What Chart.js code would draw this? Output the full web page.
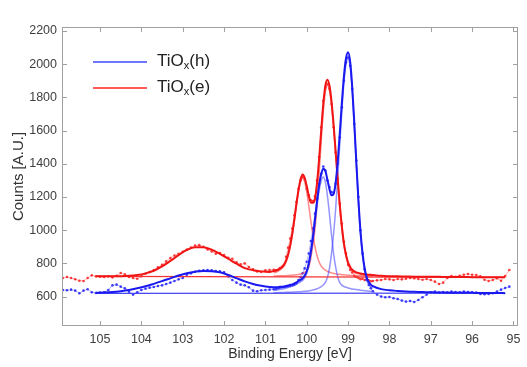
<!doctype html>
<html lang="en">
<head>
<meta charset="utf-8" />
<title>TiOx XPS</title>
<script src="https://cdn.jsdelivr.net/npm/chart.js@4"></script>
<style>
  body { margin: 0; background: #fff; }
  #wrap { position: relative; width: 527px; height: 367px; }
  .key { position: absolute; left: 93px; width: 54px; height: 2px; }
  .lab { position: absolute; left: 157px; font: 17px Arial, "Liberation Sans", sans-serif; color: #222; line-height: 22px; white-space: nowrap; }
  .lab sub { font-size: 11px; vertical-align: -3px; }
</style>
</head>
<body>
<div id="wrap">
  <canvas id="xps" width="527" height="367"></canvas>
  <div class="key" style="top: 60.5px; background: rgb(110,120,255);"></div>
  <div class="lab" style="top: 50px;">TiO<sub>x</sub>(h)</div>
  <div class="key" style="top: 86.5px; background: rgb(255,90,90);"></div>
  <div class="lab" style="top: 76px;">TiO<sub>x</sub>(e)</div>
</div>
<script>
// axis ticks
const xTicks = [105, 104, 103, 102, 101, 100, 99, 98, 97, 96, 95];
const yTicks = [600, 800, 1000, 1200, 1400, 1600, 1800, 2000, 2200];

// fitted envelopes (eV grid, finer around the Ti 2p peaks)
const fitX = [105.1, 104.9, 104.7, 104.5, 104.3, 104.1, 103.9, 103.7, 103.5, 103.3, 103.1, 102.9, 102.7, 102.5, 102.3, 102.1, 101.9, 101.7, 101.5, 101.3, 101.1, 100.9,
  100.8, 100.75, 100.7, 100.65, 100.6, 100.55, 100.5, 100.45, 100.4, 100.35, 100.3, 100.25, 100.2, 100.15, 100.1, 100.05, 100, 99.95, 99.9, 99.85, 99.8, 99.75, 99.7, 99.65,
  99.6, 99.55, 99.5, 99.45, 99.4, 99.35, 99.3, 99.25, 99.2, 99.15, 99.1, 99.05, 99, 98.95, 98.9, 98.85, 98.8, 98.75, 98.7, 98.65, 98.6, 98.55, 98.5, 98.45, 98.4,
  98.2, 98.0, 97.8, 97.6, 97.4, 97.2, 97.0, 96.8, 96.6, 96.4, 96.2, 96.0, 95.8, 95.6, 95.4, 95.2];
const redFit = [722, 722, 722, 723, 725, 730, 740, 756, 782, 815, 850, 881, 898, 897, 883, 857, 828, 798, 772, 759, 752, 749,
  754, 757, 762, 768, 777, 793, 817, 855, 909, 980, 1065, 1158, 1242, 1306, 1335, 1316, 1266, 1206, 1167, 1165, 1188, 1287, 1432, 1601,
  1760, 1871, 1907, 1870, 1775, 1635, 1471, 1303, 1150, 1021, 919, 852, 805, 779, 762, 752, 746, 743, 739, 737, 735, 733, 732, 731, 730,
  725, 723, 722, 721, 720, 720, 719, 719, 718, 718, 718, 717, 717, 717, 716, 716];
const blueFit = [623, 625, 628, 633, 640, 650, 662, 677, 693, 710, 727, 741, 750, 755, 753, 746, 730, 711, 692, 676, 665, 658,
  657, 657, 657, 659, 659, 661, 664, 667, 671, 674, 680, 685, 693, 701, 711, 727, 753, 802, 872, 960, 1068, 1176, 1271, 1338,
  1370, 1357, 1304, 1247, 1210, 1218, 1288, 1417, 1586, 1769, 1929, 2036, 2072, 2015, 1863, 1648, 1408, 1182, 993, 862, 771, 716, 688, 672, 663,
  645, 638, 634, 631, 629, 628, 626, 625, 624, 624, 623, 623, 622, 622, 622, 621];

// single components
const compX = [100.8, 100.75, 100.7, 100.65, 100.6, 100.55, 100.5, 100.45, 100.4, 100.35, 100.3, 100.25, 100.2, 100.15, 100.1, 100.05, 100, 99.95, 99.9, 99.85, 99.8, 99.75, 99.7, 99.65,
  99.6, 99.55, 99.5, 99.45, 99.4, 99.35, 99.3, 99.25, 99.2, 99.15, 99.1, 99.05, 99, 98.95, 98.9, 98.85, 98.8, 98.75, 98.7, 98.65, 98.6, 98.55, 98.5, 98.45, 98.4];
const redComp1 = [743, 747, 752, 759, 769, 784, 809, 846, 900, 970, 1055, 1147, 1229, 1290, 1315, 1290, 1229, 1147, 1055, 970, 900, 846, 809, 784,
  769, 759, 752, 747, 743, 740, 737, 735, 734, 732, 731, 730, 729, 728, 727, 727, 726, 726, 725, 725, 725, 724, 724, 724, 724];
const redComp2 = [724, 724, 725, 725, 725, 726, 726, 727, 728, 729, 730, 731, 733, 736, 740, 746, 757, 779, 832, 915, 1008, 1161, 1343, 1537,
  1711, 1832, 1875, 1843, 1752, 1615, 1454, 1288, 1136, 1009, 908, 842, 796, 771, 755, 745, 740, 737, 734, 732, 730, 729, 728, 727, 726];
const blueComp1 = [637, 639, 641, 643, 645, 648, 651, 655, 659, 663, 668, 674, 681, 689, 698, 713, 739, 786, 855, 940, 1045, 1149, 1238, 1298,
  1320, 1291, 1208, 1095, 970, 858, 777, 718, 684, 669, 661, 656, 652, 649, 646, 644, 643, 641, 639, 637, 636, 634, 633, 632, 631];
const blueComp2 = [624, 624, 624, 625, 625, 625, 626, 626, 627, 627, 628, 628, 629, 630, 631, 632, 633, 635, 637, 640, 643, 647, 653, 660,
  670, 686, 716, 772, 860, 980, 1131, 1319, 1522, 1720, 1888, 2000, 2040, 1986, 1837, 1624, 1385, 1161, 974, 845, 755, 702, 675, 660, 652];

// linear backgrounds
const baseX = [105.1, 95.2];
const redBase = [722, 716];
const blueBase = [620, 621];

// measured spectra
const dataX = [105.9, 105.8, 105.7, 105.6, 105.5, 105.4, 105.3, 105.2, 105.1, 105.0, 104.9, 104.8, 104.7, 104.6, 104.5, 104.4, 104.3, 104.2, 104.1, 104.0,
  103.9, 103.8, 103.7, 103.6, 103.5, 103.4, 103.3, 103.2, 103.1, 103.0, 102.9, 102.8, 102.7, 102.6, 102.5, 102.4, 102.3, 102.2, 102.1, 102.0,
  101.9, 101.8, 101.7, 101.6, 101.5, 101.4, 101.3, 101.2, 101.1, 101.0, 100.9,
  100.8, 100.75, 100.7, 100.65, 100.6, 100.55, 100.5, 100.45, 100.4, 100.35, 100.3, 100.25, 100.2, 100.15, 100.1, 100.05, 100, 99.95, 99.9, 99.85, 99.8, 99.75, 99.7, 99.65,
  99.6, 99.55, 99.5, 99.45, 99.4, 99.35, 99.3, 99.25, 99.2, 99.15, 99.1, 99.05, 99, 98.95, 98.9, 98.85, 98.8, 98.75, 98.7, 98.65, 98.6, 98.55, 98.5, 98.45, 98.4,
  98.3, 98.2, 98.1, 98.0, 97.9, 97.8, 97.7, 97.6, 97.5, 97.4, 97.3, 97.2, 97.1, 97.0, 96.9, 96.8, 96.7, 96.6, 96.5, 96.4, 96.3, 96.2, 96.1, 96.0,
  95.9, 95.8, 95.7, 95.6, 95.5, 95.4, 95.3, 95.2, 95.1];
const redData = [712, 718, 712, 705, 696, 694, 712, 728, 722, 720, 718, 722, 716, 726, 742, 734, 718, 712, 708, 722,
  738, 748, 760, 776, 792, 812, 832, 848, 858, 870, 884, 896, 908, 910, 900, 884, 872, 858, 862, 850,
  834, 828, 806, 794, 800, 778, 764, 752, 748, 758, 760,
  762, 758, 760, 772, 780, 790, 840, 895, 950, 1010, 1090, 1170, 1250, 1300, 1320, 1310, 1250, 1210, 1180, 1175, 1205, 1300, 1440, 1620,
  1780, 1860, 1880, 1850, 1760, 1620, 1470, 1310, 1160, 1040, 930, 860, 790, 760, 745, 725, 718, 712, 705, 708, 700, 704, 698, 692, 694,
  698, 700, 706, 704, 700, 706, 704, 708, 712, 710, 706, 702, 706, 700, 690, 676, 684, 712, 724, 720, 726, 732, 736, 732,
  730, 722, 702, 694, 700, 710, 696, 724, 760];
const blueData = [640, 638, 642, 636, 620, 636, 644, 626, 622, 624, 626, 640, 668, 672, 660, 650, 630, 612, 626, 640,
  648, 654, 658, 664, 668, 676, 684, 694, 704, 712, 732, 740, 750, 756, 758, 760, 758, 754, 752, 746,
  722, 700, 684, 672, 668, 656, 636, 632, 638, 640, 642,
  644, 646, 650, 654, 656, 658, 660, 662, 664, 668, 672, 680, 700, 718, 740, 770, 810, 860, 935, 1010, 1100, 1190, 1280, 1340,
  1384, 1360, 1300, 1260, 1230, 1225, 1280, 1400, 1560, 1740, 1900, 2010, 2040, 1990, 1850, 1640, 1420, 1200, 1000, 860, 765, 700, 670, 650, 632,
  612, 600, 596, 598, 590, 586, 576, 570, 574, 568, 580, 596, 612, 626, 630, 624, 628, 626, 630, 628, 626, 630, 628, 626,
  624, 616, 614, 616, 620, 630, 642, 652, 660];

const pts = (xs, ys) => xs.map((x, i) => ({ x, y: ys[i] }));

const RED = "rgb(240,20,20)";
const BLUE = "rgb(25,25,240)";

function curve(data, color, width, order, smooth) {
  return {
    data, borderColor: color, borderWidth: width, pointRadius: 0, order,
    cubicInterpolationMode: smooth ? "monotone" : "default", tension: 0, fill: false,
  };
}
function measured(data, line, dot) {
  return {
    data, borderColor: line, borderWidth: 0.8, order: 3, tension: 0, fill: false,
    pointRadius: 1.3, pointBorderWidth: 0, pointBackgroundColor: dot,
  };
}

// frame with inward tick marks on all four sides, like the original plot
const frame = {
  id: "frame",
  afterDatasetsDraw(chart) {
    const { ctx, chartArea: a, scales: { x, y } } = chart;
    const L = Math.round(a.left) + 0.5, R = Math.round(a.right) - 0.5;
    const T = Math.round(a.top) + 0.5, B = Math.round(a.bottom) - 0.5;
    ctx.save();
    ctx.strokeStyle = "#a0a0a0";
    ctx.lineWidth = 1;
    ctx.strokeRect(L, T, R - L, B - T);
    ctx.beginPath();
    for (const v of xTicks) {
      const px = Math.round(x.getPixelForValue(v)) + 0.5;
      ctx.moveTo(px, B); ctx.lineTo(px, B - 4.5);
      ctx.moveTo(px, T); ctx.lineTo(px, T + 4.5);
    }
    for (const v of yTicks) {
      const py = Math.round(y.getPixelForValue(v)) + 0.5;
      ctx.moveTo(L, py); ctx.lineTo(L + 4.5, py);
      ctx.moveTo(R, py); ctx.lineTo(R - 4.5, py);
    }
    ctx.stroke();
    ctx.restore();
  },
};

Chart.defaults.font.family = "Arial, 'Liberation Sans', Helvetica, sans-serif";

new Chart(document.getElementById("xps"), {
  type: "line",
  data: {
    datasets: [
      curve(pts(fitX, blueFit), BLUE, 2, 0, true),
      curve(pts(fitX, redFit), RED, 2, 0, true),
      curve(pts(baseX, blueBase), "rgb(70,70,245)", 1.3, 1, false),
      curve(pts(baseX, redBase), "rgb(245,50,50)", 1.3, 1, false),
      curve(pts(compX, blueComp1), "rgba(60,60,255,0.55)", 1.5, 2, true),
      curve(pts(compX, blueComp2), "rgba(60,60,255,0.55)", 1.5, 2, true),
      curve(pts(compX, redComp1), "rgba(255,60,60,0.6)", 1.5, 2, true),
      curve(pts(compX, redComp2), "rgba(255,60,60,0.6)", 1.5, 2, true),
      measured(pts(dataX, blueData), "rgba(40,40,250,0.45)", "rgba(30,30,250,0.85)"),
      measured(pts(dataX, redData), "rgba(250,40,40,0.45)", "rgba(250,30,30,0.85)"),
    ],
  },
  options: {
    responsive: false,
    animation: false,
    parsing: false,
    layout: { padding: { left: 0, right: 9, top: 27, bottom: 0 } },
    plugins: { legend: { display: false }, tooltip: { enabled: false } },
    scales: {
      x: {
        type: "linear", reverse: true, min: 94.89, max: 105.92,
        afterBuildTicks: (s) => { s.ticks = xTicks.map((v) => ({ value: v })); },
        afterFit: (s) => { s.height = 41; },
        grid: { display: false, drawTicks: false },
        border: { display: false },
        ticks: { autoSkip: false, maxRotation: 0, padding: 6, color: "#404040", font: { size: 12.5 }, callback: (v) => String(v) },
        title: { display: true, text: "Binding Energy [eV]", color: "#333", font: { size: 14 }, padding: { top: 0, bottom: 4 } },
      },
      y: {
        type: "linear", min: 423, max: 2224,
        afterBuildTicks: (s) => { s.ticks = yTicks.map((v) => ({ value: v })); },
        afterFit: (s) => { s.width = 62; },
        grid: { display: false, drawTicks: false },
        border: { display: false },
        ticks: { padding: 5, color: "#404040", font: { size: 12.5 }, callback: (v) => String(v) },
        title: { display: true, text: "Counts [A.U.]", color: "#333", font: { size: 15 }, padding: { top: 10, bottom: 0 } },
      },
    },
  },
  plugins: [frame],
});
</script>
</body>
</html>
